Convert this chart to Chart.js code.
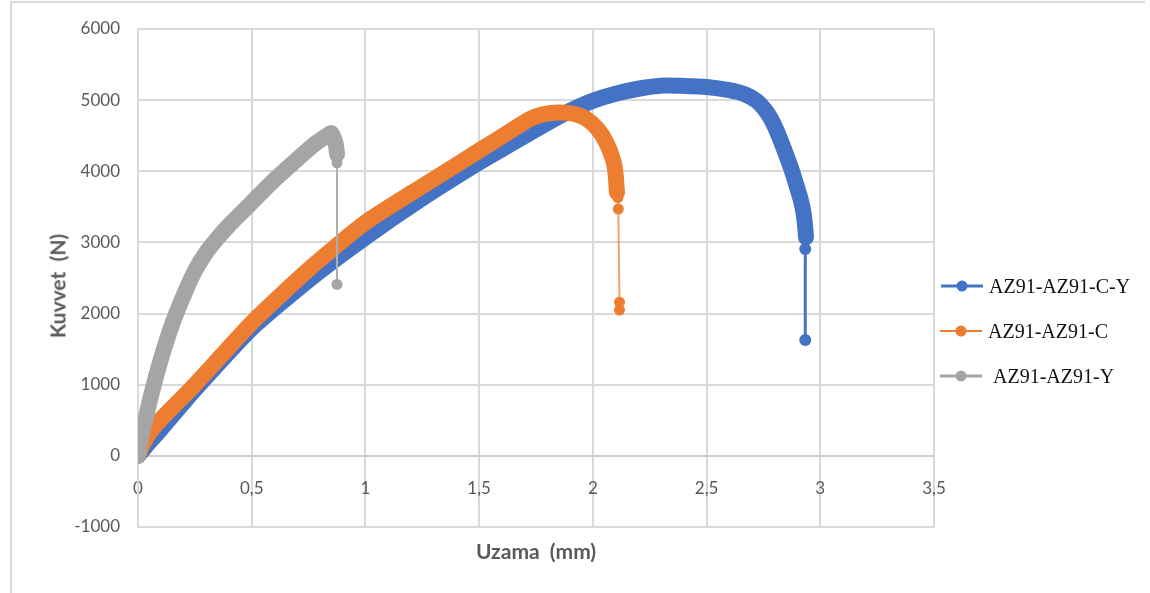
<!DOCTYPE html>
<html>
<head>
<meta charset="utf-8">
<title>AZ91 çekme eğrileri</title>
<script src="https://cdn.jsdelivr.net/npm/chart.js@4.4.1/dist/chart.umd.min.js"></script>
<style>
  html, body { margin: 0; padding: 0; background: #fff; }
  #wrap { position: relative; width: 1150px; height: 593px; overflow: hidden; }
  #frame {
    position: absolute; left: 10px; top: 1px; width: 1133px; height: 620px;
    border-top: 2px solid #dadada; border-left: 2px solid #dadada;
  }
  #chart { position: absolute; left: 0; top: 0; }
  .axis-title {
    position: absolute; white-space: pre; color: #595959;
    font: bold 21px Lato, "Liberation Sans", sans-serif;
  }
  #xTitle { left: 536px; top: 550px; transform: translate(-50%, -50%); }
  #yTitle { left: 57px; top: 286px; transform: translate(-50%, -50%) rotate(-90deg); }
  .legend-item {
    position: absolute; height: 24px; display: flex; align-items: center;
    font: 20px "Liberation Serif", "Times New Roman", serif; color: #111;
  }
  .swatch { position: relative; width: 42px; height: 12px; }
  .swatch .ln { position: absolute; left: 0; right: 0; top: 50%; transform: translateY(-50%); }
  .swatch .dot {
    position: absolute; left: 50%; top: 50%; width: 11px; height: 11px;
    border-radius: 50%; transform: translate(-50%, -50%);
  }
</style>
</head>
<body>
<div id="wrap">
  <div id="frame"></div>
  <canvas id="chart" width="1150" height="593"></canvas>
  <div class="axis-title" id="xTitle">Uzama  (mm)</div>
  <div class="axis-title" id="yTitle">Kuvvet  (N)</div>
  <div id="legend"></div>
</div>
<script>
// Series names
const seriesNames = ['AZ91-AZ91-C-Y', 'AZ91-AZ91-C', 'AZ91-AZ91-Y'];

// AZ91-AZ91-C-Y : elongation (mm) / force (N)
const cyElong = [0, 0.05, 0.1, 0.25, 0.5, 0.75, 1.0, 1.25, 1.5, 1.6, 1.7, 1.8, 1.9, 2.0, 2.1, 2.2, 2.31, 2.4, 2.5, 2.6, 2.67, 2.72, 2.765, 2.795, 2.825, 2.854, 2.877, 2.898, 2.915, 2.927, 2.937, 2.934, 2.934];
const cyForce = [0, 190, 370, 930, 1790, 2470, 3070, 3620, 4125, 4310, 4495, 4680, 4850, 4990, 5090, 5160, 5205, 5200, 5185, 5140, 5080, 4990, 4830, 4665, 4440, 4196, 3990, 3774, 3590, 3400, 3070, 2907, 1627];

// AZ91-AZ91-C
const cElong = [0, 0.02, 0.05, 0.1, 0.25, 0.5, 0.75, 1.0, 1.25, 1.5, 1.65, 1.72, 1.78, 1.85, 1.92, 1.97, 2.02, 2.06, 2.09, 2.1, 2.106, 2.11, 2.112, 2.117, 2.117];
const cForce = [0, 150, 320, 510, 1000, 1870, 2620, 3280, 3790, 4290, 4590, 4730, 4800, 4825, 4805, 4740, 4600, 4400, 4150, 3960, 3700, 3630, 3470, 2160, 2050];

// AZ91-AZ91-Y
const yElong = [0, 0.01, 0.03, 0.06, 0.1, 0.15, 0.2, 0.25, 0.3, 0.35, 0.4, 0.5, 0.6, 0.7, 0.78, 0.83, 0.85, 0.868, 0.875, 0.875, 0.875];
const yForce = [0, 200, 480, 880, 1350, 1850, 2250, 2600, 2860, 3060, 3240, 3560, 3880, 4170, 4390, 4500, 4535, 4400, 4240, 4120, 2410];

// last index of the dense trace; after it the specimen breaks
const cyBreak = 30;
const cBreak = 20;
const yBreak = 18;

// axis ranges
const xMin = 0, xMax = 3.5, xStep = 0.5;
const yMin = -1000, yMax = 6000, yStep = 1000;

const colors = ['#4472C4', '#ED7D31', '#A5A5A5'];
const dropColors = ['#4472C4', 'rgba(237, 125, 49, 0.7)', '#ADADAD'];
const dropWidths = [3, 2, 2];
const legendWidths = [3, 2, 3];
const markerRadius = [6, 5.5, 5.5];
const traceWidth = 16;

function toPoints(xs, ys) {
    return xs.map((x, i) => ({ x, y: ys[i] }));
}

function makeDataset(i, xs, ys, breakIdx) {
    return {
        label: seriesNames[i],
        data: toPoints(xs, ys),
        showLine: true,
        borderColor: colors[i],
        backgroundColor: colors[i],
        borderWidth: traceWidth,
        borderCapStyle: 'round',
        borderJoinStyle: 'round',
        tension: 0.2,
        pointRadius: ctx => ctx.dataIndex > breakIdx ? markerRadius[i] : 0,
        pointBorderWidth: 0,
        pointBackgroundColor: colors[i],
        order: 3 - i,
        segment: {
            borderWidth: ctx => ctx.p0DataIndex >= breakIdx ? dropWidths[i] : traceWidth,
            borderColor: ctx => ctx.p0DataIndex >= breakIdx ? dropColors[i] : colors[i]
        }
    };
}

const tickFont = { family: 'Lato, "Liberation Sans", sans-serif', size: 17 };
const gridColor = '#D9D9D9';

new Chart(document.getElementById('chart'), {
    type: 'scatter',
    data: {
        datasets: [
            makeDataset(0, cyElong, cyForce, cyBreak),
            makeDataset(1, cElong, cForce, cBreak),
            makeDataset(2, yElong, yForce, yBreak)
        ]
    },
    options: {
        responsive: false,
        animation: false,
        events: [],
        layout: { padding: { left: 0, top: 29, right: 216, bottom: 66 } },
        plugins: {
            legend: { display: false },
            tooltip: { enabled: false }
        },
        scales: {
            x: {
                type: 'linear',
                position: { y: 0 },
                min: xMin,
                max: xMax,
                ticks: {
                    stepSize: xStep,
                    padding: 22,
                    maxRotation: 0,
                    autoSkip: false,
                    color: '#595959',
                    font: tickFont,
                    callback: v => String(v).replace('.', ',')
                },
                grid: { color: gridColor, lineWidth: 2, drawTicks: false },
                border: { color: '#CFCFCF', width: 2 }
            },
            y: {
                type: 'linear',
                min: yMin,
                max: yMax,
                ticks: {
                    stepSize: yStep,
                    padding: 18,
                    color: '#595959',
                    font: tickFont,
                    callback: v => String(v)
                },
                grid: { color: gridColor, lineWidth: 2, drawTicks: false },
                border: { color: gridColor, width: 2 },
                afterFit: scale => { scale.width = 138; }
            }
        }
    }
});

// Legend on the right: line sample with a marker, then the name
const legendEl = document.getElementById('legend');
const legendTop = [286, 331, 376];
const legendLeft = [941, 940, 940];
const legendGap = [6, 6, 11];
seriesNames.forEach((name, i) => {
    const item = document.createElement('div');
    item.className = 'legend-item';
    item.style.left = legendLeft[i] + 'px';
    item.style.top = (legendTop[i] - 12) + 'px';

    const sw = document.createElement('div');
    sw.className = 'swatch';
    sw.style.marginRight = legendGap[i] + 'px';
    const ln = document.createElement('div');
    ln.className = 'ln';
    ln.style.height = legendWidths[i] + 'px';
    ln.style.background = colors[i];
    const dot = document.createElement('div');
    dot.className = 'dot';
    dot.style.background = colors[i];
    sw.appendChild(ln);
    sw.appendChild(dot);

    const txt = document.createElement('span');
    txt.textContent = name;
    item.appendChild(sw);
    item.appendChild(txt);
    legendEl.appendChild(item);
});
</script>
</body>
</html>
